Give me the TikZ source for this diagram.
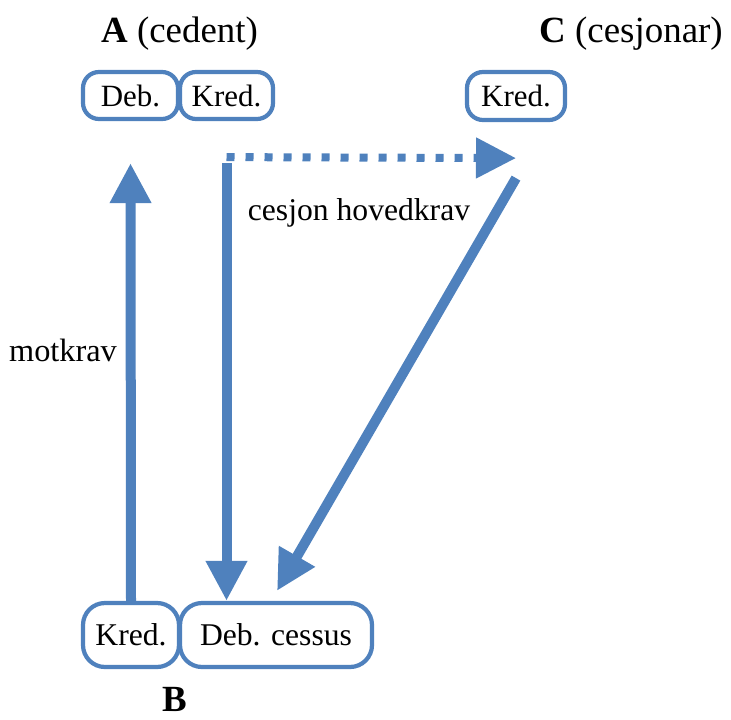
\documentclass[tikz,border=0pt]{standalone}
\usepackage{fontspec}
\setmainfont{Liberation Serif}
\usetikzlibrary{positioning, arrows.meta}
\definecolor{kontoblue}{RGB}{79,129,189}
\tikzset{
  konto/.style={draw=kontoblue, line width=1.2pt, fill=white, rounded corners=0.16cm, inner sep=0pt, font=\fontsize{8.8}{10}\selectfont},
  pil/.style={kontoblue, line width=0.1cm, -{Triangle[length=0.4cm, width=0.39cm]}},
}

\begin{document}
\begin{tikzpicture}
    \useasboundingbox (0,0) rectangle (7.31,-7.19);

    % Overskrifter
    \node[anchor=base, font=\fontsize{10.5}{12}\selectfont] (tittelA) at (1.795,-0.43) {\textbf{A} (cedent)};
    \node[anchor=base, font=\fontsize{10.5}{12}\selectfont] (tittelC) at (6.31,-0.43) {\textbf{C} (cesjonar)};
    \node[font=\fontsize{10.5}{12}\selectfont\bfseries] (tittelB) at (1.75,-6.99) {B};

    % Kontoer hos A og C
    \node[konto, minimum width=0.95cm, minimum height=0.47cm] (debA) at (1.305,-0.955) {Deb.};
    \node[konto, minimum width=0.93cm, minimum height=0.47cm] (kredA) at (2.265,-0.955) {Kred.};
    \node[konto, minimum width=0.98cm, minimum height=0.48cm] (kredC) at (5.16,-0.96) {Kred.};

    % Kontoer hos B
    \node[konto, rounded corners=0.22cm, minimum width=0.96cm, minimum height=0.64cm, font=\fontsize{9}{10}\selectfont] (kredB) at (1.31,-6.35) {Kred.};
    \node[konto, rounded corners=0.22cm, minimum width=1.92cm, minimum height=0.64cm, font=\fontsize{9}{10}\selectfont] (cessus) at (2.76,-6.35) {Deb. cessus};

    % Piler
    \draw[pil] (kredB.north) -- ([yshift=-0.42cm]debA.south);
    \draw[pil] ([yshift=-0.42cm]kredA.south) -- (kredA.south |- cessus.north);
    \draw[pil, line width=0.08cm, dash pattern=on 0.08cm off 0.11cm] ([yshift=-0.36cm]kredA.south) -- ([yshift=-0.36cm]kredC.south);
    \draw[pil] ([yshift=-0.56cm]kredC.south) -- ([xshift=0.01cm, yshift=0.1cm]cessus.north);

    % Tekster
    \node[font=\fontsize{9.2}{10}\selectfont] (motkrav) at (0.63,-3.5) {motkrav};
    \node[font=\fontsize{9}{10}\selectfont] (hovedkrav) at (3.59,-2.13) {cesjon hovedkrav};
\end{tikzpicture}
\end{document}
